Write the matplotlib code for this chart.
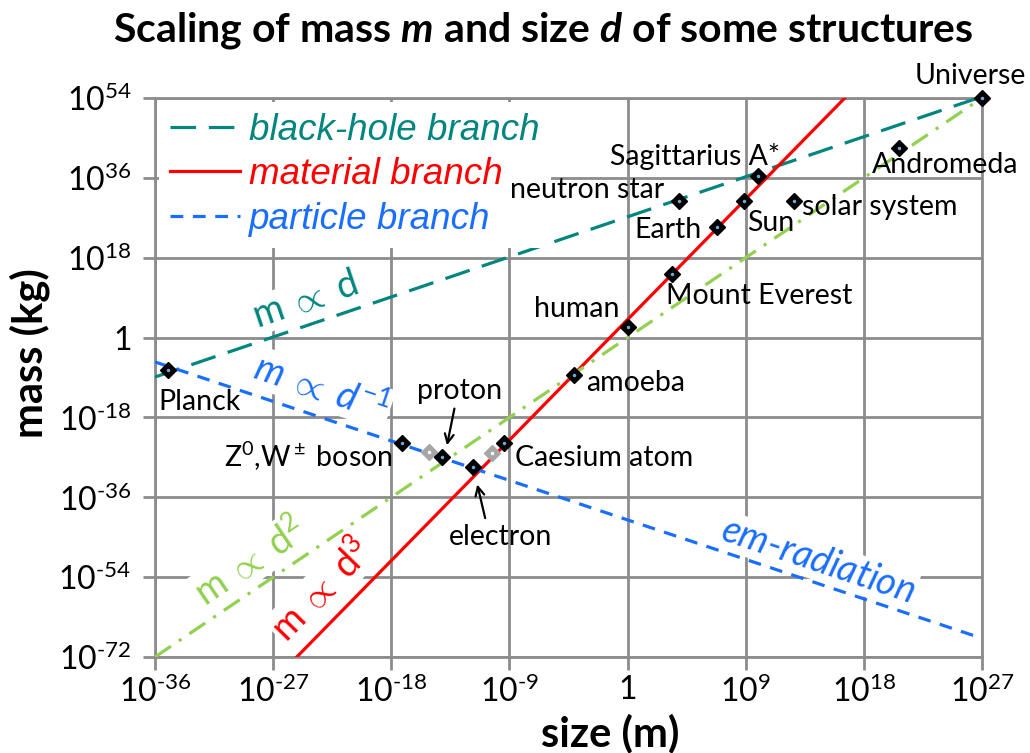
import numpy as np
import matplotlib
matplotlib.use("Agg")
import matplotlib.pyplot as plt

# log10 values
names = ["Planck", "Z0,W boson", "proton", "electron", "Caesium atom", "amoeba",
         "human", "Mount Everest", "Earth", "neutron star", "Sun",
         "Sagittarius A*", "solar system", "Andromeda", "Universe"]
size_exp = [-35.0, -17.2, -14.1, -11.8, -9.4, -4.1, 0.0, 3.4, 6.8, 3.9, 8.9,
            9.9, 12.7, 20.7, 27.0]
mass_exp = [-7.3, -23.8, -26.9, -29.2, -23.8, -8.4, 2.3, 14.3, 25.0, 30.8,
            30.8, 36.4, 30.8, 42.7, 54.0]
grey_size_exp = [-15.1, -10.3]
grey_mass_exp = [-25.8, -26.0]

# branch lines, end points (log10 size, log10 mass)
bh_size = [-36, 27]
bh_mass = [-8.9, 54.3]
mat_size = [-25.2, 16.55]
mat_mass = [-72, 54]
part_size = [-36, 27]
part_mass = [-5.5, -67.8]
d2_size = [-36, 27]
d2_mass = [-72, 54]

x_tick_exp = [-36, -27, -18, -9, 0, 9, 18, 27]
y_tick_exp = [-72, -54, -36, -18, 0, 18, 36, 54]

TEAL = "#00857f"
RED = "#ff0000"
BLUE = "#1a6eff"
GREEN = "#92d050"
GRID = "#8c8c8c"

plt.rcParams["font.family"] = ["Lato", "DejaVu Sans"]
plt.rcParams["mathtext.fontset"] = "custom"
plt.rcParams["mathtext.rm"] = "Lato"
plt.rcParams["mathtext.it"] = "Lato:italic"
plt.rcParams["mathtext.bf"] = "Lato:bold"
plt.rcParams["mathtext.bfit"] = "Lato:italic:bold"
ARIAL = ["Liberation Sans", "DejaVu Sans"]


def p(v):
    return 10.0 ** np.asarray(v, dtype=float)


def tick_label(e):
    if e == 0:
        return "1"
    if e < 0:
        return r"$10^{\text{-}%d}$" % abs(e)
    return r"$10^{%d}$" % e


fig = plt.figure(figsize=(10.3, 7.53), dpi=100)
ax = fig.add_axes([0.1505, 0.1275, 0.8029, 0.7424])
ax.set_xscale("log")
ax.set_yscale("log")
ax.set_xlim(p(-36), p(27))
ax.set_ylim(p(-72), p(54))

ax.set_xticks(p(x_tick_exp))
ax.set_yticks(p(y_tick_exp))
ax.minorticks_off()
ax.set_xticklabels([tick_label(e) for e in x_tick_exp])
ax.set_yticklabels([tick_label(e) for e in y_tick_exp])
ax.tick_params(length=9, width=2, color=GRID, labelsize=23)
ax.tick_params(axis="y", pad=8)
ax.tick_params(axis="x", pad=4)
ax.grid(True, color=GRID, lw=2, zorder=0)
for s in ax.spines.values():
    s.set_color(GRID)
    s.set_linewidth(2)

lw = 2.3
bh, = ax.plot(p(bh_size), p(bh_mass), color=TEAL, lw=lw, dashes=(8, 4),
              label="black-hole branch", zorder=3)
mat, = ax.plot(p(mat_size), p(mat_mass), color=RED, lw=lw,
               label="material branch", zorder=3)
part, = ax.plot(p(part_size), p(part_mass), color=BLUE, lw=lw, dashes=(4, 3),
                label="particle branch", zorder=3)
ax.plot(p(d2_size), p(d2_mass), color=GREEN, lw=lw, dashes=(6, 3, 1, 3), zorder=3)

ax.plot(p(grey_size_exp), p(grey_mass_exp), "D", ms=8.5, color="#a6a6a6", zorder=4)
ax.plot(p(grey_size_exp), p(grey_mass_exp), ".", ms=3, color="white", zorder=5)
ax.plot(p(size_exp), p(mass_exp), "D", ms=8.5, color="black", zorder=4, clip_on=False)
ax.plot(p(size_exp), p(mass_exp), ".", ms=3, color="#6fa8dc", zorder=5, clip_on=False)

leg = ax.legend(handles=[bh, mat, part], loc="upper left", frameon=True,
                facecolor="white", edgecolor="none", framealpha=1, fancybox=False,
                prop=dict(family=ARIAL, style="italic", size=26.5),
                labelcolor="linecolor", handlelength=1.9, handletextpad=0.25,
                borderaxespad=0.1, borderpad=0.3, labelspacing=0.26)
leg.set_zorder(6)


def angle(xs, ys):
    q = ax.transData.transform(np.column_stack([p(xs), p(ys)]))
    return np.degrees(np.arctan2(q[1, 1] - q[0, 1], q[1, 0] - q[0, 0]))


box = dict(facecolor="white", edgecolor="none", pad=1)
slope_labels = [
    (r"$\mathrm{m}\;\propto\;\mathrm{d}$", -24.6, 8.5, TEAL, bh_size, bh_mass),
    (r"$m\;\propto\;d^{-1}$", -23.3, -11.4, BLUE, part_size, part_mass),
    (r"$\mathrm{m}\;\propto\;\mathrm{d}^{2}$", -28.8, -50.6, GREEN, d2_size, d2_mass),
    (r"$\mathrm{m}\;\propto\;\mathrm{d}^{3}$", -23.3, -56.9, RED, mat_size, mat_mass),
    (r"$em\text{-}radiation$", 14.5, -50.3, BLUE, part_size, part_mass),
]
for txt, lx, ly, c, xs, ys in slope_labels:
    ax.text(p(lx), p(ly), txt, color=c, fontsize=27,
            rotation=angle(xs, ys), rotation_mode="anchor", ha="center",
            va="center", bbox=box, zorder=5)

point_labels = [
    ("Universe", 26.1, 58.9),
    ("Sagittarius A*", 5.1, 40.7),
    ("neutron star", -3.1, 33.3),
    ("Andromeda", 24.2, 38.9),
    ("solar system", 19.2, 29.4),
    ("Earth", 3.1, 24.2),
    ("Sun", 10.9, 25.8),
    ("Mount Everest", 10.0, 9.4),
    ("human", -3.9, 6.4),
    ("amoeba", 0.6, -10.2),
    ("Planck", -32.6, -14.5),
    ("Z$^0$,W$^\\pm$ boson", -24.35, -26.9),
    ("proton", -12.8, -12.0),
    ("Caesium atom", -1.8, -27.1),
    ("electron", -9.7, -44.9),
]
for txt, lx, ly in point_labels:
    ax.text(p(lx), p(ly), txt, fontsize=20.5, ha="center", va="center",
            zorder=7, clip_on=False)

arrow = dict(arrowstyle="->", color="black", lw=1.6, mutation_scale=16)
ax.annotate("", xy=(p(-13.8), p(-24.9)), xytext=(p(-13.15), p(-15.4)),
            arrowprops=arrow, zorder=7)
ax.annotate("", xy=(p(-11.5), p(-32.5)), xytext=(p(-10.8), p(-41.3)),
            arrowprops=arrow, zorder=7)

fig.text(0.527, 0.96, r"Scaling of mass $\mathbfit{m}$ and size $\mathbfit{d}$ of some structures",
         ha="center", va="center", fontsize=29.5, fontweight="bold")
fig.text(610 / 1030, 1 - 733 / 753, "size (m)", ha="center", va="center",
         fontsize=30, fontweight="bold")
fig.text(30 / 1030, 1 - 353 / 753, "mass (kg)", ha="center", va="center",
         rotation=90, fontsize=30, fontweight="bold")

fig.savefig("out.png", dpi=100)
